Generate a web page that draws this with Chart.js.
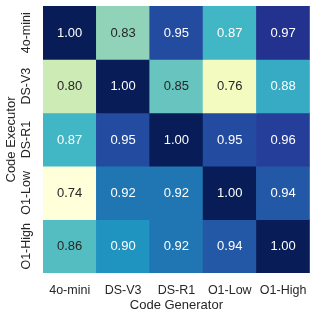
<!DOCTYPE html>
<html>
<head>
<meta charset="utf-8">
<script src="https://cdn.jsdelivr.net/npm/chart.js@4/dist/chart.umd.min.js"></script>
<style>
  html, body { margin: 0; padding: 0; background: #fff; }
  #wrap { width: 317px; height: 317px; }
</style>
</head>
<body>
<div id="wrap"><canvas id="heat"></canvas></div>
<script>
// models (same order on both axes)
const generators = ['4o-mini', 'DS-V3', 'DS-R1', 'O1-Low', 'O1-High'];
const executors = ['4o-mini', 'DS-V3', 'DS-R1', 'O1-Low', 'O1-High'];

// one array per executor row, values per generator column
const row4oMini = [1.00, 0.83, 0.95, 0.87, 0.97];
const rowDSV3 = [0.80, 1.00, 0.85, 0.76, 0.88];
const rowDSR1 = [0.87, 0.95, 1.00, 0.95, 0.96];
const rowO1Low = [0.74, 0.92, 0.92, 1.00, 0.94];
const rowO1High = [0.86, 0.90, 0.92, 0.94, 1.00];
const rows = [row4oMini, rowDSV3, rowDSR1, rowO1Low, rowO1High];

const vmin = 0.74, vmax = 1.00;
const FONT = "'Liberation Sans', Arial, sans-serif";

// YlGnBu anchors (matplotlib)
const ylgnbu = [
  [255, 255, 217], [237, 248, 177], [199, 233, 180], [127, 205, 187], [65, 182, 196],
  [29, 145, 192], [34, 94, 168], [37, 52, 148], [8, 29, 88]
];

function cmap(v) {
  let t = (v - vmin) / (vmax - vmin);
  t = Math.max(0, Math.min(1, t)) * (ylgnbu.length - 1);
  const i = Math.min(Math.floor(t), ylgnbu.length - 2);
  const f = t - i;
  const a = ylgnbu[i], b = ylgnbu[i + 1];
  return a.map((c, k) => c + (b[k] - c) * f);
}

function luminance(rgb) {
  const lin = rgb.map(c => {
    c = c / 255;
    return c <= 0.03928 ? c / 12.92 : Math.pow((c + 0.055) / 1.055, 2.4);
  });
  return 0.2126 * lin[0] + 0.7152 * lin[1] + 0.0722 * lin[2];
}

const rgbStr = c => `rgb(${c.map(Math.round).join(',')})`;

const datasets = rows.map((vals, r) => ({
  label: executors[r],
  data: vals.map(() => [r, r + 1]),
  values: vals,
  backgroundColor: vals.map(v => rgbStr(cmap(v))),
  borderWidth: 0,
  barPercentage: 1,
  categoryPercentage: 1,
  grouped: false
}));

// cell value labels + rotated executor labels
const heatText = {
  id: 'heatText',
  afterDatasetsDraw(chart) {
    const ctx = chart.ctx;
    ctx.save();
    ctx.font = `13px ${FONT}`;
    ctx.textAlign = 'center';
    ctx.textBaseline = 'middle';
    chart.data.datasets.forEach((ds, r) => {
      chart.getDatasetMeta(r).data.forEach((bar, c) => {
        const v = ds.values[c];
        ctx.fillStyle = luminance(cmap(v)) > 0.408 ? '#262626' : '#ffffff';
        ctx.fillText(v.toFixed(2), bar.x, (bar.y + bar.base) / 2 + 0.5);
      });
    });
    const ys = chart.scales.y;
    ctx.font = `12.5px ${FONT}`;
    ctx.fillStyle = '#262626';
    executors.forEach((name, r) => {
      ctx.save();
      ctx.translate(27, ys.getPixelForValue(r + 0.5));
      ctx.rotate(-Math.PI / 2);
      ctx.fillText(name, 0, 0);
      ctx.restore();
    });
    ctx.restore();
  }
};

new Chart(document.getElementById('heat'), {
  type: 'bar',
  data: { labels: generators, datasets },
  options: {
    responsive: true,
    maintainAspectRatio: false,
    animation: false,
    layout: { padding: { top: 6, right: 6, left: 0, bottom: 0 } },
    plugins: { legend: { display: false }, tooltip: { enabled: false } },
    scales: {
      x: {
        grid: { display: false, drawTicks: false },
        border: { display: false },
        ticks: { color: '#262626', font: { family: FONT, size: 12.5 }, padding: 10, maxRotation: 0 },
        title: { display: true, text: 'Code Generator', color: '#262626', font: { family: FONT, size: 13 }, padding: { top: 0, bottom: 4 } },
        afterFit: s => { s.height = 44; }
      },
      y: {
        type: 'linear',
        min: 0,
        max: 5,
        reverse: true,
        grid: { display: false, drawTicks: false },
        border: { display: false },
        ticks: { display: false },
        title: { display: true, text: 'Code Executor', color: '#262626', font: { family: FONT, size: 13 }, padding: { top: 4, bottom: 0 } },
        afterFit: s => { s.width = 43; }
      }
    }
  },
  plugins: [heatText]
});
</script>
</body>
</html>
